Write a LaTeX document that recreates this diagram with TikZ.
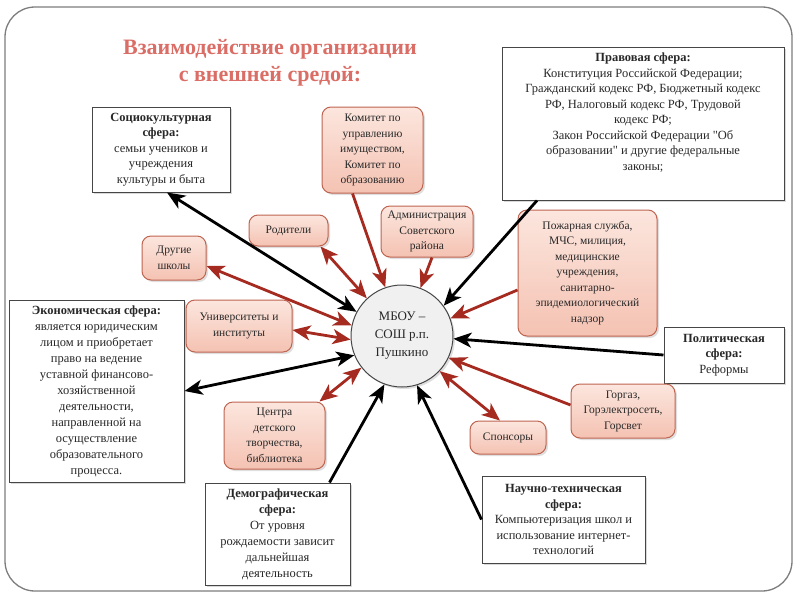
\documentclass[tikz,border=0pt]{standalone}
\usepackage{fontspec}
\setmainfont{Liberation Serif}
\usetikzlibrary{arrows.meta,shadows,calc}
\definecolor{pinktop}{RGB}{252,230,222}
\definecolor{pinkbot}{RGB}{244,194,178}
\definecolor{pinkdraw}{RGB}{190,100,80}
\definecolor{arrred}{RGB}{165,42,32}
\definecolor{titlered}{RGB}{218,110,102}
\definecolor{boxdraw}{RGB}{70,70,70}
\definecolor{framegray}{RGB}{125,125,125}
\definecolor{circfill}{RGB}{240,240,240}
\definecolor{txtgray}{RGB}{40,40,40}
\begin{document}
\begin{tikzpicture}[x=1pt,y=-1pt,
  sphere/.style={draw=boxdraw, line width=1pt, fill=white, align=center, inner sep=2pt,
    text=txtgray, font=\fontsize{12.5}{15.5}\selectfont,
    drop shadow={opacity=0.3, shadow xshift=2pt, shadow yshift=-2pt}},
  pinkbox/.style={draw=pinkdraw, line width=1pt, rounded corners=9pt, top color=pinktop,
    bottom color=pinkbot, align=center, inner sep=2pt, text=txtgray,
    font=\fontsize{11.5}{15.5}\selectfont,
    drop shadow={opacity=0.25, shadow xshift=2pt, shadow yshift=-2pt}},
  tipst/.tip={Stealth[length=18pt,width=15pt,inset=5pt]},
  blkarr/.style={line width=2.8pt, black, -tipst},
  blkdbl/.style={line width=2.8pt, black, tipst-tipst},
  redarr/.style={line width=2.8pt, arrred, -tipst},
  reddbl/.style={line width=2.8pt, arrred, tipst-tipst},
]
\useasboundingbox (0,0) rectangle (800,600);
\draw[framegray, line width=1.3pt, rounded corners=30pt] (5,7) rectangle (792,591);

% title
\node[align=center, text=titlered, font=\fontsize{22}{27}\selectfont\bfseries] (title) at (270,63)
  {Взаимодействие организации\\с внешней средой:};

% outer spheres
\node[sphere, minimum width=282pt, minimum height=153pt] (pravo) at (643,123.5)
  {\textbf{Правовая сфера:}\\Конституция Российской Федерации;\\Гражданский кодекс РФ, Бюджетный кодекс\\РФ, Налоговый кодекс РФ, Трудовой\\кодекс РФ;\\Закон Российской Федерации \textquotedbl Об\\образовании\textquotedbl{} и другие федеральные\\законы;\\[8pt]};
\node[sphere, minimum width=138pt, minimum height=85pt] (socio) at (161,149.5)
  {\textbf{Социокультурная}\\\textbf{сфера:}\\семьи учеников и\\учреждения\\культуры и быта};
\node[sphere, minimum width=175pt, minimum height=182pt, font=\fontsize{12.5}{16}\selectfont] (econ) at (96.5,391)
  {\textbf{Экономическая сфера:}\\является юридическим\\лицом и приобретает\\право на ведение\\уставной финансово-\\хозяйственной\\деятельности,\\направленной на\\осуществление\\образовательного\\процесса.};
\node[sphere, minimum width=120pt, minimum height=56pt] (polit) at (724,355)
  {\textbf{Политическая}\\\textbf{сфера:}\\Реформы};
\node[sphere, minimum width=145pt, minimum height=102pt, font=\fontsize{12.5}{16}\selectfont] (demog) at (277.5,534)
  {\textbf{Демографическая}\\\textbf{сфера:}\\От уровня\\рождаемости зависит\\дальнейшая\\деятельность};
\node[sphere, minimum width=163pt, minimum height=87pt] (nauch) at (563.5,519.5)
  {\textbf{Научно-техническая}\\\textbf{сфера:}\\Компьютеризация школ и\\использование интернет-\\технологий};

% pink boxes
\node[pinkbox, minimum width=101pt, minimum height=86pt] (komitet) at (372.5,150)
  {Комитет по\\управлению\\имуществом,\\Комитет по\\образованию};
\node[pinkbox, minimum width=79pt, minimum height=31pt] (roditeli) at (288.5,230.5) {Родители};
\node[pinkbox, minimum width=92pt, minimum height=51pt] (admin) at (427,231.5)
  {Администрация\\Советского\\района};
\node[pinkbox, minimum width=64pt, minimum height=44pt] (drugie) at (174,258) {Другие\\школы};
\node[pinkbox, minimum width=139pt, minimum height=126pt] (pozhar) at (587.5,273)
  {Пожарная служба,\\МЧС, милиция,\\медицинские\\учреждения,\\санитарно-\\эпидемиологический\\надзор};
\node[pinkbox, minimum width=106pt, minimum height=52pt] (univ) at (239,326)
  {Университеты и\\институты};
\node[pinkbox, minimum width=104pt, minimum height=54pt] (gorgaz) at (623,411)
  {Горгаз,\\Горэлектросеть,\\Горсвет};
\node[pinkbox, minimum width=76pt, minimum height=33pt] (sponsor) at (508,437.5) {Спонсоры};
\node[pinkbox, minimum width=101pt, minimum height=67pt] (centra) at (274.5,435.5)
  {Центра\\детского\\творчества,\\библиотека};

% centre
\node[circle, draw=boxdraw, line width=1pt, fill=circfill, minimum size=102pt, align=center,
  text=txtgray, font=\fontsize{13}{18}\selectfont,
  drop shadow={opacity=0.25, shadow xshift=2pt, shadow yshift=-2pt}] (mbou) at (402,336)
  {МБОУ --\\СОШ р.п.\\Пушкино};

% black connectors
\draw[blkdbl] (mbou.152) -- ([xshift=6pt]socio.south);
\draw[blkarr] ([xshift=-106pt]pravo.south) -- (mbou.36);
\draw[blkarr] (polit.west) -- (mbou.-3);
\draw[blkdbl] (mbou.202) -- (econ.east);
\draw[blkarr] ([xshift=52pt]demog.north) -- (mbou.250);
\draw[blkarr] (nauch.west) -- (mbou.287);

% red connectors
\draw[redarr] ([xshift=-20pt]komitet.south) -- (mbou.109);
\draw[redarr] ([xshift=5pt]admin.south) -- (mbou.69);
\draw[reddbl] ([xshift=-8pt]roditeli.south east) -- (mbou.133);
\draw[reddbl] ([yshift=-8pt]drugie.east) -- (mbou.168);
\draw[reddbl] ([yshift=-4pt]univ.east) -- (mbou.184);
\draw[redarr] ([yshift=-17pt]pozhar.west) -- (mbou.20);
\draw[redarr] ([yshift=6pt]gorgaz.west) -- (mbou.335);
\draw[reddbl] ([xshift=-8pt]sponsor.north) -- (mbou.317);
\draw[reddbl] ([xshift=-6pt]centra.north east) -- (mbou.218);
\end{tikzpicture}
\end{document}
